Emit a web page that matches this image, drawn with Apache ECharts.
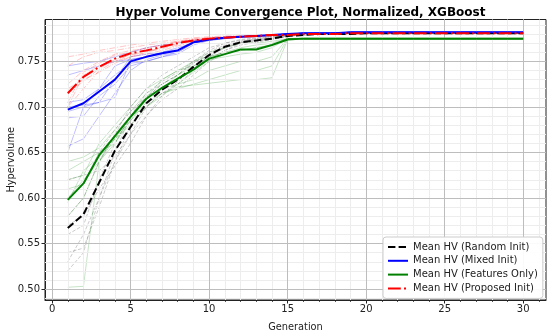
<!DOCTYPE html>
<html><head><meta charset="utf-8">
<script src="https://cdn.jsdelivr.net/npm/echarts@6/dist/echarts.min.js"></script>
<style>html,body{margin:0;padding:0;background:#fff}#c{width:550px;height:334px}</style>
</head><body><div id="c"></div>
<script>
const generations = [1,2,3,4,5,6,7,8,9,10,11,12,13,14,15,16,17,18,19,20,21,22,23,24,25,26,27,28,29,30];
const xTicks = [0,5,10,15,20,25,30];
const xMinorTicks = [0,1,2,3,4,5,6,7,8,9,10,11,12,13,14,15,16,17,18,19,20,21,22,23,24,25,26,27,28,29,30,31];
const yTicks = [0.50,0.55,0.60,0.65,0.70,0.75];
const yMinorTicks = [0.49,0.50,0.51,0.52,0.53,0.54,0.55,0.56,0.57,0.58,0.59,0.60,0.61,0.62,0.63,0.64,0.65,0.66,0.67,0.68,0.69,0.70,0.71,0.72,0.73,0.74,0.75,0.76,0.77,0.78,0.79];

const meanRandom   = [0.567,0.582,0.617,0.652,0.678,0.704,0.719,0.730,0.744,0.757,0.766,0.771,0.773,0.775,0.778,0.779,0.780,0.780,0.780,0.781,0.781,0.781,0.781,0.781,0.781,0.781,0.781,0.781,0.781,0.781];
const meanMixed    = [0.697,0.704,0.717,0.730,0.750,0.755,0.759,0.762,0.771,0.774,0.776,0.777,0.778,0.779,0.780,0.781,0.781,0.781,0.782,0.782,0.782,0.782,0.782,0.782,0.782,0.782,0.782,0.782,0.782,0.782];
const meanFeatures = [0.598,0.616,0.647,0.668,0.689,0.709,0.721,0.731,0.741,0.753,0.758,0.763,0.763,0.768,0.774,0.775,0.775,0.775,0.775,0.775,0.775,0.775,0.775,0.775,0.775,0.775,0.775,0.775,0.775,0.775];
const meanProposed = [0.715,0.733,0.744,0.753,0.759,0.762,0.766,0.770,0.773,0.775,0.776,0.777,0.778,0.779,0.779,0.780,0.780,0.780,0.781,0.781,0.781,0.781,0.781,0.781,0.781,0.781,0.781,0.781,0.781,0.781];

const runsRandom = [
 [0.520,0.540,0.600,0.650,0.690,0.710,0.725,0.735,0.748,0.760,0.768,0.772,0.775,0.777,0.779,0.780,0.780,0.780,0.781,0.781,0.781,0.781,0.781,0.781,0.781,0.781,0.781,0.781,0.781,0.781],
 [0.540,0.545,0.590,0.640,0.680,0.700,0.720,0.730,0.742,0.755,0.765,0.770,0.773,0.775,0.778,0.779,0.780,0.780,0.780,0.780,0.780,0.780,0.780,0.780,0.780,0.780,0.780,0.780,0.780,0.780],
 [0.560,0.570,0.620,0.660,0.690,0.715,0.728,0.738,0.750,0.762,0.770,0.773,0.775,0.777,0.779,0.780,0.781,0.781,0.781,0.781,0.781,0.781,0.781,0.781,0.781,0.781,0.781,0.781,0.781,0.781],
 [0.580,0.600,0.640,0.670,0.700,0.720,0.735,0.745,0.755,0.765,0.770,0.774,0.776,0.778,0.780,0.780,0.781,0.781,0.781,0.781,0.781,0.781,0.781,0.781,0.781,0.781,0.781,0.781,0.781,0.781],
 [0.600,0.615,0.650,0.675,0.695,0.710,0.725,0.735,0.748,0.758,0.766,0.771,0.774,0.776,0.779,0.780,0.780,0.780,0.780,0.780,0.780,0.780,0.780,0.780,0.780,0.780,0.780,0.780,0.780,0.780],
 [0.530,0.560,0.600,0.640,0.670,0.700,0.715,0.725,0.740,0.752,0.762,0.768,0.771,0.774,0.778,0.779,0.780,0.780,0.780,0.780,0.780,0.780,0.780,0.780,0.780,0.780,0.780,0.780,0.780,0.780],
 [0.570,0.580,0.610,0.635,0.660,0.690,0.708,0.720,0.735,0.750,0.762,0.770,0.772,0.774,0.777,0.779,0.780,0.780,0.780,0.780,0.780,0.780,0.780,0.780,0.780,0.780,0.780,0.780,0.780,0.780],
 [0.620,0.625,0.630,0.645,0.670,0.690,0.712,0.728,0.742,0.756,0.765,0.770,0.773,0.775,0.778,0.779,0.780,0.780,0.780,0.780,0.780,0.780,0.780,0.780,0.780,0.780,0.780,0.780,0.780,0.780]
];
const runsMixed = [
 [0.745,0.748,0.750,0.755,0.760,0.765,0.768,0.770,0.773,0.775,0.776,0.777,0.778,0.779,0.780,0.781,0.781,0.781,0.782,0.782,0.782,0.782,0.782,0.782,0.782,0.782,0.782,0.782,0.782,0.782],
 [0.735,0.740,0.745,0.750,0.752,0.755,0.760,0.765,0.770,0.774,0.776,0.777,0.778,0.779,0.780,0.781,0.781,0.781,0.782,0.782,0.782,0.782,0.782,0.782,0.782,0.782,0.782,0.782,0.782,0.782],
 [0.700,0.702,0.705,0.730,0.755,0.758,0.760,0.762,0.770,0.774,0.776,0.777,0.778,0.779,0.780,0.781,0.781,0.781,0.782,0.782,0.782,0.782,0.782,0.782,0.782,0.782,0.782,0.782,0.782,0.782],
 [0.695,0.700,0.705,0.710,0.750,0.755,0.760,0.763,0.772,0.775,0.776,0.777,0.778,0.779,0.780,0.781,0.781,0.781,0.782,0.782,0.782,0.782,0.782,0.782,0.782,0.782,0.782,0.782,0.782,0.782],
 [0.688,0.690,0.712,0.725,0.745,0.750,0.755,0.758,0.768,0.773,0.775,0.777,0.778,0.779,0.780,0.780,0.781,0.781,0.781,0.781,0.781,0.781,0.781,0.781,0.781,0.781,0.781,0.781,0.781,0.781],
 [0.657,0.665,0.690,0.715,0.740,0.752,0.757,0.760,0.770,0.774,0.776,0.777,0.778,0.779,0.780,0.781,0.781,0.781,0.782,0.782,0.782,0.782,0.782,0.782,0.782,0.782,0.782,0.782,0.782,0.782],
 [0.705,0.708,0.720,0.735,0.748,0.750,0.755,0.760,0.770,0.773,0.775,0.777,0.778,0.779,0.780,0.781,0.781,0.781,0.782,0.782,0.782,0.782,0.782,0.782,0.782,0.782,0.782,0.782,0.782,0.782],
 [0.650,0.700,0.720,0.745,0.752,0.755,0.758,0.762,0.771,0.774,0.776,0.777,0.778,0.779,0.780,0.781,0.781,0.781,0.782,0.782,0.782,0.782,0.782,0.782,0.782,0.782,0.782,0.782,0.782,0.782]
];
const runsFeatures = [
 [0.502,0.503,0.640,0.660,0.690,0.700,0.715,0.720,0.725,0.730,0.735,0.740,0.740,0.745,0.775,0.775,0.775,0.775,0.775,0.775,0.775,0.775,0.775,0.775,0.775,0.775,0.775,0.775,0.775,0.775],
 [0.600,0.620,0.640,0.670,0.690,0.710,0.720,0.725,0.730,0.740,0.745,0.750,0.750,0.755,0.775,0.775,0.775,0.775,0.775,0.775,0.775,0.775,0.775,0.775,0.775,0.775,0.775,0.775,0.775,0.775],
 [0.620,0.625,0.660,0.680,0.700,0.720,0.730,0.740,0.750,0.760,0.765,0.770,0.770,0.772,0.775,0.776,0.776,0.776,0.776,0.776,0.776,0.776,0.776,0.776,0.776,0.776,0.776,0.776,0.776,0.776],
 [0.640,0.645,0.655,0.675,0.695,0.715,0.725,0.735,0.745,0.755,0.760,0.765,0.768,0.770,0.775,0.775,0.775,0.775,0.775,0.775,0.775,0.775,0.775,0.775,0.775,0.775,0.775,0.775,0.775,0.775],
 [0.580,0.600,0.640,0.665,0.685,0.705,0.715,0.722,0.724,0.726,0.728,0.730,0.730,0.732,0.774,0.774,0.774,0.774,0.774,0.774,0.774,0.774,0.774,0.774,0.774,0.774,0.774,0.774,0.774,0.774],
 [0.610,0.615,0.650,0.665,0.680,0.700,0.712,0.725,0.738,0.750,0.758,0.762,0.765,0.768,0.775,0.775,0.775,0.775,0.775,0.775,0.775,0.775,0.775,0.775,0.775,0.775,0.775,0.775,0.775,0.775],
 [0.630,0.640,0.650,0.660,0.685,0.710,0.730,0.740,0.745,0.752,0.755,0.758,0.760,0.765,0.775,0.775,0.775,0.775,0.775,0.775,0.775,0.775,0.775,0.775,0.775,0.775,0.775,0.775,0.775,0.775],
 [0.595,0.630,0.645,0.665,0.690,0.712,0.720,0.735,0.750,0.755,0.760,0.762,0.765,0.768,0.775,0.775,0.775,0.775,0.775,0.775,0.775,0.775,0.775,0.775,0.775,0.775,0.775,0.775,0.775,0.775]
];
const runsProposed = [
 [0.745,0.755,0.760,0.762,0.765,0.768,0.770,0.772,0.774,0.776,0.777,0.778,0.778,0.779,0.780,0.780,0.780,0.781,0.781,0.781,0.781,0.781,0.781,0.781,0.781,0.781,0.781,0.781,0.781,0.781],
 [0.705,0.738,0.748,0.757,0.760,0.765,0.768,0.772,0.775,0.776,0.777,0.777,0.778,0.779,0.779,0.780,0.780,0.780,0.781,0.781,0.781,0.781,0.781,0.781,0.781,0.781,0.781,0.781,0.781,0.781],
 [0.700,0.720,0.740,0.750,0.758,0.760,0.765,0.770,0.772,0.775,0.776,0.777,0.778,0.778,0.779,0.780,0.780,0.780,0.781,0.781,0.781,0.781,0.781,0.781,0.781,0.781,0.781,0.781,0.781,0.781],
 [0.725,0.740,0.750,0.758,0.762,0.764,0.768,0.771,0.774,0.775,0.776,0.777,0.778,0.779,0.779,0.780,0.780,0.780,0.781,0.781,0.781,0.781,0.781,0.781,0.781,0.781,0.781,0.781,0.781,0.781],
 [0.715,0.728,0.742,0.752,0.757,0.760,0.764,0.768,0.772,0.775,0.776,0.777,0.778,0.778,0.779,0.780,0.780,0.780,0.780,0.780,0.780,0.780,0.780,0.780,0.780,0.780,0.780,0.780,0.780,0.780],
 [0.755,0.758,0.762,0.765,0.768,0.770,0.772,0.774,0.776,0.777,0.778,0.778,0.779,0.779,0.780,0.780,0.781,0.781,0.781,0.781,0.781,0.781,0.781,0.781,0.781,0.781,0.781,0.781,0.781,0.781],
 [0.700,0.735,0.745,0.750,0.755,0.760,0.766,0.770,0.773,0.775,0.776,0.777,0.778,0.779,0.779,0.780,0.780,0.780,0.781,0.781,0.781,0.781,0.781,0.781,0.781,0.781,0.781,0.781,0.781,0.781],
 [0.720,0.730,0.738,0.748,0.755,0.758,0.762,0.767,0.771,0.774,0.776,0.777,0.777,0.778,0.779,0.780,0.780,0.780,0.780,0.780,0.780,0.780,0.780,0.780,0.780,0.780,0.780,0.780,0.780,0.780]
];

const FONT = 'DejaVu Sans';
function pairs(vals){ return generations.map((g,i)=>[g, vals[i]]); }
function runSeries(list, color, type){
  return list.map(v => ({type:'line', data:pairs(v), symbol:'none', silent:true, z:1,
    lineStyle:{color:color, width:1, type:type}}));
}
const minorStyle = {color:'#ededed', width:1, type:'solid'};
const majorStyle = {color:'#bdbdbd', width:1, type:'solid'};
const gridLines = [].concat(
  xMinorTicks.map(v => ({xAxis:v, lineStyle:minorStyle})),
  yMinorTicks.map(v => ({yAxis:v, lineStyle:minorStyle})),
  xTicks.map(v => ({xAxis:v, lineStyle:majorStyle})),
  yTicks.map(v => ({yAxis:v, lineStyle:majorStyle}))
);
const series = [].concat(
  [{type:'line', data:[], silent:true, z:0,
    markLine:{silent:true, symbol:['none','none'], label:{show:false}, animation:false, data:gridLines}}],
  runSeries(runsRandom, 'rgba(128,128,128,0.4)', [3.7,1.6]),
  runSeries(runsMixed, 'rgba(0,0,255,0.25)', 'solid'),
  runSeries(runsFeatures, 'rgba(0,128,0,0.22)', 'solid'),
  runSeries(runsProposed, 'rgba(255,0,0,0.22)', [6.4,1.6,1,1.6]),
  [
    {name:'Mean HV (Random Init)', type:'line', data:pairs(meanRandom), symbol:'none', z:5, lineStyle:{color:'#000', width:2, type:[7.4,3.2]}, itemStyle:{color:'#000'}},
    {name:'Mean HV (Mixed Init)', type:'line', data:pairs(meanMixed), symbol:'none', z:5, lineStyle:{color:'#0000ff', width:2, type:'solid'}, itemStyle:{color:'#0000ff'}},
    {name:'Mean HV (Features Only)', type:'line', data:pairs(meanFeatures), symbol:'none', z:5, lineStyle:{color:'#008000', width:2, type:'solid'}, itemStyle:{color:'#008000'}},
    {name:'Mean HV (Proposed Init)', type:'line', data:pairs(meanProposed), symbol:'none', z:6, lineStyle:{color:'#ff0000', width:2, type:[12.8,3.2,2,3.2]}, itemStyle:{color:'#ff0000'}}
  ]
);

const chart = echarts.init(document.getElementById('c'), null, {renderer:'canvas'});
chart.setOption({
  animation:false,
  backgroundColor:'#fff',
  textStyle:{fontFamily:FONT},
  title:{text:'Hyper Volume Convergence Plot, Normalized, XGBoost', left:295.5, textAlign:'center', top:2,
    textStyle:{fontFamily:FONT, fontSize:12, fontWeight:'bold', color:'#000'}},
  grid:{left:45, right:4, top:19.5, bottom:34, show:true, borderColor:'#222', borderWidth:1, backgroundColor:'#fff',
    containLabel:false, outerBoundsMode:'none'},
  legend:{orient:'vertical', left:383, top:237, z:50, itemWidth:20, itemHeight:10, itemGap:3.8,
    padding:[5,5,5,4], backgroundColor:'rgba(255,255,255,0.92)', borderColor:'#ccc', borderWidth:1, borderRadius:3,
    itemStyle:{opacity:0},
    textStyle:{fontFamily:FONT, fontSize:10, color:'#222'},
    data:['Mean HV (Random Init)','Mean HV (Mixed Init)','Mean HV (Features Only)','Mean HV (Proposed Init)']},
  xAxis:[
    {type:'value', min:-0.45, max:31.45, z:2,
      name:'Generation', nameLocation:'middle', nameGap:22, nameMoveOverlap:false, nameTextStyle:{fontFamily:FONT, fontSize:9.8, color:'#222'},
      axisLine:{show:true, onZero:false, lineStyle:{color:'#222', width:1}},
      axisTick:{show:true, length:3.5, customValues:xTicks, lineStyle:{color:'#222'}},
      axisLabel:{customValues:xTicks, fontFamily:FONT, fontSize:10, color:'#222', margin:4},
      splitLine:{show:false}},
    {type:'value', min:-0.45, max:31.45, z:1, position:'bottom', offset:0,
      axisLine:{show:false}, axisLabel:{show:false},
      axisTick:{show:true, length:2, customValues:xMinorTicks, lineStyle:{color:'#555'}},
      splitLine:{show:false}}
  ],
  yAxis:[
    {type:'value', min:0.488, max:0.796, z:2,
      name:'Hypervolume', nameLocation:'middle', nameGap:29, nameMoveOverlap:false, nameTextStyle:{fontFamily:FONT, fontSize:9.8, color:'#222'},
      axisLine:{show:true, onZero:false, lineStyle:{color:'#222', width:1}},
      axisTick:{show:true, length:3.5, customValues:yTicks, lineStyle:{color:'#222'}},
      axisLabel:{customValues:yTicks, fontFamily:FONT, fontSize:10, color:'#222', margin:5, formatter:v=>v.toFixed(2)},
      splitLine:{show:false}},
    {type:'value', min:0.488, max:0.796, z:1, position:'left', offset:0,
      axisLine:{show:false}, axisLabel:{show:false},
      axisTick:{show:true, length:2, customValues:yMinorTicks, lineStyle:{color:'#555'}},
      splitLine:{show:false}}
  ],
  series: series
});
</script></body></html>
